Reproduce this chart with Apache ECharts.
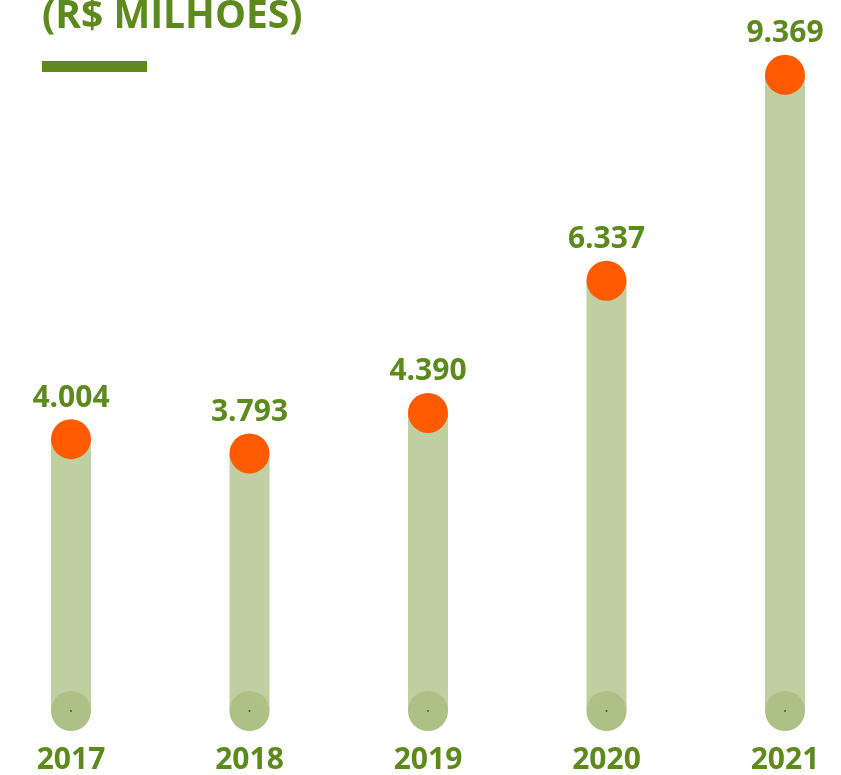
<!DOCTYPE html>
<html>
<head>
<meta charset="utf-8">
<script src="https://cdn.jsdelivr.net/npm/echarts@6/dist/echarts.min.js"></script>
<style>
	html, body { margin: 0; padding: 0; background: #fff; }
	#chart { width: 841px; height: 775px; }
</style>
</head>
<body>
<div id="chart"></div>
<script>
const years = ['2017', '2018', '2019', '2020', '2021']
const receita = [4004, 3793, 4390, 6337, 9369]
const zeros = [0, 0, 0, 0, 0]

const green = '#5c8a1c'
const fmt = v => String(v).replace(/\B(?=(\d{3})+(?!\d))/g, '.')

const chart = echarts.init(document.getElementById('chart'))
const option = {
	animation: false,
	grid: { left: 71, right: 56, top: 32, bottom: 64 },
	xAxis: {
		type: 'category',
		data: years,
		boundaryGap: false,
		axisLine: { show: false },
		axisTick: { show: false },
		axisLabel: {
			color: green,
			fontFamily: 'Open Sans',
			fontWeight: 'bold',
			fontSize: 30,
			margin: 34,
		},
	},
	yAxis: {
		type: 'value',
		min: 0,
		max: 10000,
		show: false,
		splitLine: { show: false },
	},
	series: [
		{
			type: 'bar',
			data: receita,
			barWidth: 40,
			itemStyle: { color: '#bfcfa2' },
			z: 1,
		},
		{
			type: 'scatter',
			data: zeros,
			symbolSize: 40,
			itemStyle: { color: '#adc085', opacity: 1 },
			z: 2,
		},
		{
			type: 'scatter',
			data: zeros,
			symbolSize: 2,
			itemStyle: { color: '#4a5a30', opacity: 1 },
			z: 3,
		},
		{
			type: 'scatter',
			data: receita,
			symbolSize: 40,
			itemStyle: { color: '#ff5a00', opacity: 1 },
			z: 4,
			label: {
				show: true,
				position: 'top',
				distance: 6,
				formatter: p => fmt(p.value),
				color: green,
				fontFamily: 'Open Sans',
				fontWeight: 'bold',
				fontSize: 30,
			},
		},
	],
	graphic: [
		{
			type: 'text',
			left: 42,
			top: -3,
			style: {
				text: '(R$ MILHOES)',
				fill: green,
				font: 'bold 39px "Open Sans"',
			},
		},
		{
			type: 'rect',
			shape: { x: 42, y: 61, width: 105, height: 11 },
			style: { fill: '#5e8a1b' },
		},
	],
}
chart.setOption(option)
</script>
</body>
</html>
